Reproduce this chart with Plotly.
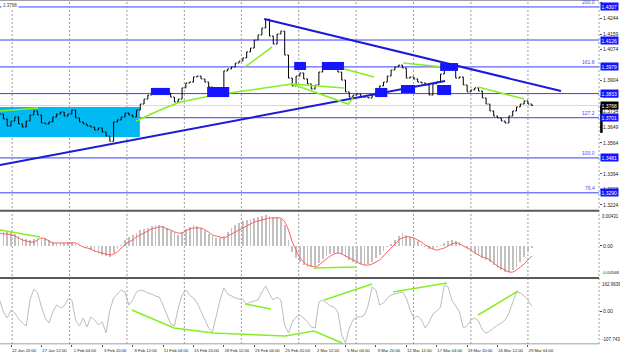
import plotly.graph_objects as go

# ---------------- data ----------------
close_prices = [
    1.3721, 1.3694, 1.3656, 1.3683, 1.3705, 1.3667, 1.3650, 1.3683, 1.3716, 1.3738,
    1.3716, 1.3672, 1.3667, 1.3678, 1.3705, 1.3721, 1.3732, 1.3710, 1.3721, 1.3743,
    1.3700, 1.3678, 1.3667, 1.3656, 1.3650, 1.3634, 1.3645, 1.3623, 1.3601, 1.3572,
    1.3678, 1.3689, 1.3705, 1.3727, 1.3716, 1.3705, 1.3743, 1.3776, 1.3803, 1.3825,
    1.3842, 1.3847, 1.3853, 1.3842, 1.3836, 1.3814, 1.3787, 1.3803, 1.3864, 1.3891,
    1.3896, 1.3924, 1.3929, 1.3913, 1.3896, 1.3869, 1.3853, 1.3836, 1.3831, 1.3957,
    1.3968, 1.3979, 1.4000, 1.4011, 1.4028, 1.4061, 1.4082, 1.4126, 1.4154, 1.4192,
    1.4240, 1.4148, 1.4104, 1.4159, 1.4175, 1.4044, 1.3918, 1.3875, 1.3929, 1.3946,
    1.3913, 1.3886, 1.3858, 1.3880, 1.3951, 1.3995, 1.3984, 1.3973, 1.3968, 1.3951,
    1.3907, 1.3842, 1.3814, 1.3825, 1.3831, 1.3814, 1.3814, 1.3809, 1.3825, 1.3847,
    1.3875, 1.3896, 1.3929, 1.3962, 1.3979, 1.3989, 1.3973, 1.3918, 1.3924, 1.3913,
    1.3896, 1.3891, 1.3880, 1.3825, 1.3886, 1.3896, 1.3940, 1.3984, 1.3984, 1.3973,
    1.3918, 1.3924, 1.3880, 1.3842, 1.3853, 1.3864, 1.3847, 1.3809, 1.3776, 1.3738,
    1.3710, 1.3700, 1.3683, 1.3672, 1.3710, 1.3738, 1.3760, 1.3776, 1.3793, 1.3776,
    1.3768,
]

macd_main = [
    0.00228, 0.00245, 0.00245, 0.00245, 0.00210, 0.00175, 0.00140, 0.00123, 0.00105, 0.00123,
    0.00140, 0.00140, 0.00140, 0.00105, 0.00070, 0.00053, 0.00053, 0.00053, 0.00070, 0.00070,
    0.00035, 0.00018, 0.00000, -0.00018, -0.00070, -0.00105, -0.00140, -0.00158, -0.00175, -0.00193,
    -0.00123, -0.00053, 0.00018, 0.00105, 0.00158, 0.00193, 0.00228, 0.00280, 0.00298, 0.00315,
    0.00350, 0.00368, 0.00368, 0.00350, 0.00315, 0.00263, 0.00228, 0.00193, 0.00245, 0.00298,
    0.00333, 0.00368, 0.00350, 0.00315, 0.00263, 0.00210, 0.00175, 0.00140, 0.00140, 0.00175,
    0.00245, 0.00315, 0.00368, 0.00403, 0.00438, 0.00455, 0.00473, 0.00490, 0.00508, 0.00525,
    0.00543, 0.00525, 0.00508, 0.00508, 0.00473, 0.00368, 0.00105, -0.00105, -0.00210, -0.00280,
    -0.00333, -0.00368, -0.00368, -0.00350, -0.00298, -0.00228, -0.00175, -0.00140, -0.00123, -0.00123,
    -0.00140, -0.00193, -0.00245, -0.00280, -0.00298, -0.00315, -0.00333, -0.00315, -0.00280, -0.00210,
    -0.00158, -0.00088, -0.00018, 0.00035, 0.00105, 0.00175, 0.00228, 0.00193, 0.00158, 0.00123,
    0.00088, 0.00035, -0.00018, -0.00053, -0.00053, -0.00018, 0.00018, 0.00053, 0.00088, 0.00105,
    0.00088, 0.00070, 0.00000, -0.00035, -0.00088, -0.00123, -0.00158, -0.00210, -0.00245, -0.00280,
    -0.00333, -0.00385, -0.00420, -0.00455, -0.00455, -0.00420, -0.00368, -0.00280, -0.00193, -0.00105,
    -0.00035,
]

macd_signal = [
    0.00228, 0.00210, 0.00210, 0.00193, 0.00175, 0.00140, 0.00105, 0.00088, 0.00070, 0.00070,
    0.00105, 0.00140, 0.00123, 0.00088, 0.00053, 0.00053, 0.00053, 0.00053, 0.00053, 0.00053,
    0.00053, 0.00018, -0.00018, -0.00035, -0.00053, -0.00088, -0.00105, -0.00123, -0.00140, -0.00158,
    -0.00140, -0.00105, -0.00035, 0.00018, 0.00070, 0.00105, 0.00158, 0.00193, 0.00228, 0.00263,
    0.00298, 0.00315, 0.00333, 0.00333, 0.00298, 0.00280, 0.00245, 0.00228, 0.00228, 0.00263,
    0.00298, 0.00315, 0.00315, 0.00315, 0.00280, 0.00245, 0.00193, 0.00175, 0.00158, 0.00140,
    0.00175, 0.00210, 0.00245, 0.00280, 0.00315, 0.00350, 0.00385, 0.00420, 0.00438, 0.00455,
    0.00473, 0.00490, 0.00490, 0.00490, 0.00490, 0.00420, 0.00280, 0.00070, -0.00070, -0.00210,
    -0.00280, -0.00333, -0.00350, -0.00368, -0.00333, -0.00280, -0.00228, -0.00175, -0.00140, -0.00123,
    -0.00140, -0.00175, -0.00210, -0.00245, -0.00280, -0.00315, -0.00333, -0.00333, -0.00315, -0.00280,
    -0.00245, -0.00175, -0.00105, -0.00035, 0.00035, 0.00105, 0.00140, 0.00158, 0.00158, 0.00140,
    0.00105, 0.00070, 0.00018, -0.00018, -0.00053, -0.00070, -0.00053, -0.00035, 0.00000, 0.00035,
    0.00053, 0.00035, 0.00000, -0.00035, -0.00070, -0.00123, -0.00158, -0.00193, -0.00210, -0.00245,
    -0.00298, -0.00350, -0.00385, -0.00420, -0.00455, -0.00455, -0.00420, -0.00368, -0.00315, -0.00245,
    -0.00175,
]

cci_values = [
    49.5, -4.5, -31.5, 4.5, -9, -36, -54, -67.5, 49.5, 99,
    81, 18, -31.5, -54, -4.5, 27, 13.5, 22.5, 54, 49.5,
    -40.5, -67.5, -31.5, -72, -27, -40.5, -63, -49.5, -99, 4.5,
    58.5, 76.5, 94.5, 85.5, 27, 49.5, 85.5, 94.5, 90, 81,
    76.5, 67.5, 63, 27, -18, -58.5, -67.5, 13.5, 72, 94.5,
    72, 58.5, 36, 0, -36, -76.5, -94.5, -18, 49.5, 103.5,
    76.5, 67.5, 58.5, 54, 49.5, 31.5, 40.5, 45, 49.5, 85.5,
    112.5, 76.5, 49.5, 63, 49.5, -63, -99, -49.5, -27, -18,
    -31.5, -49.5, -72, -76.5, 40.5, 49.5, 36, 22.5, 18, -4.5,
    -108, -144, -76.5, -40.5, -27, -27, -18, 27, 108, 94.5,
    27, 36, 58.5, 72, 76.5, 81, 85.5, 58.5, 4.5, -31.5,
    -22.5, -40.5, -76.5, -49.5, -13.5, 0, 18, 117, 108, 49.5,
    22.5, -4.5, -76.5, -67.5, -40.5, -31.5, -45, -85.5, -99, -90,
    -76.5, -63, -54, -40.5, -9, 40.5, 85.5, 81, 67.5, 49.5,
    22.5,
]

time_labels = ["22 Jan 20:00", "27 Jan 12:00", "1 Feb 04:00", "3 Feb 20:00", "8 Feb 12:00",
               "11 Feb 04:00", "15 Feb 20:00", "18 Feb 12:00", "23 Feb 04:00", "25 Feb 20:00",
               "2 Mar 12:00", "5 Mar 04:00", "9 Mar 20:00", "12 Mar 12:00", "17 Mar 04:00",
               "19 Mar 20:00", "24 Mar 12:00", "29 Mar 04:00"]
time_label_bars = [3, 11, 19, 27, 35, 43, 51, 59, 67, 75, 83, 91, 99, 107, 115, 123, 131, 139]
grid_bars = [3.3, 18.4, 33.5, 48.6, 63.6, 78.7, 93.8, 108.9, 124.0, 139.0]

price_ticks = [1.4329, 1.4244, 1.4159, 1.4074, 1.3904, 1.3819, 1.3734, 1.3649,
               1.3564, 1.3394, 1.3308, 1.3224]
fib_levels = [1.4307, 1.3979, 1.3701, 1.3481, 1.3290]
fib_names = ["200.0", "161.8", "127.2", "100.0", "76.4"]
extra_levels = [1.4126, 1.3833]
current_price = 1.3768

# drawings (bar index, value)
zone_box = dict(x0=0.1, x1=36.9, y0=1.3596, y1=1.3760)
marker_boxes = [
    (39.8, 44.8, 1.3825, 1.3864), (54.6, 60.4, 1.3814, 1.3869), (77.5, 80.6, 1.3962, 1.4006),
    (84.8, 90.6, 1.3962, 1.4006), (98.8, 102.0, 1.3814, 1.3864), (105.6, 109.3, 1.3836, 1.3880),
    (115.1, 118.8, 1.3825, 1.3880), (115.9, 120.6, 1.3957, 1.4000),
]
trend_up = ([0.1, 117.2], [1.3442, 1.3902])
trend_down = ([69.6, 147.7], [1.4241, 1.3847])
price_green = [
    ([0.1, 10.1], [1.3738, 1.3754]),
    ([35.9, 42.2, 47.5, 56.7, 76.9], [1.3683, 1.3743, 1.3787, 1.3825, 1.3885]),
    ([64.6, 71.7], [1.3979, 1.4088]),
    ([84.8, 98.5], [1.4000, 1.3924]),
    ([76.9, 91.7, 93.0], [1.3885, 1.3776, 1.3809]),
    ([76.9, 90.6], [1.3885, 1.3864]),
    ([106.2, 116.7], [1.4000, 1.3979]),
    ([125.9, 138.0], [1.3869, 1.3803]),
]
macd_green = [
    ([0.1, 10.6], [0.00280, 0.00158]),
    ([82.7, 93.8], [-0.00385, -0.00368]),
]
cci_green = [
    ([34.8, 45.9, 56.2, 75.1, 82.7, 90.1], [4.5, -76.5, -99, -112.5, -90, -144]),
    ([64.6, 71.4], [31.5, 9]),
    ([85.4, 98.0], [49.5, 121.5]),
    ([103.5, 117.7], [85.5, 126]),
    ([125.9, 136.4], [-18, 90]),
]

# ---------------- figure ----------------
FONT = "Liberation Sans"
BLUE_LINE = "#3c3cff"
TREND = "#1a1ad8"
GREEN = "#86ee22"

bars = list(range(len(close_prices)))
opens = [close_prices[0]] + close_prices[:-1]
highs = [max(o, c) for o, c in zip(opens, close_prices)]
lows = [min(o, c) for o, c in zip(opens, close_prices)]

fig = go.Figure()

fig.add_trace(go.Ohlc(x=bars, open=opens, high=highs, low=lows, close=close_prices,
                      increasing_line_color="black", decreasing_line_color="black",
                      line_width=1, tickwidth=0.35, showlegend=False, hoverinfo="skip",
                      xaxis="x", yaxis="y"))

for xs, ys in [trend_up, trend_down]:
    fig.add_trace(go.Scatter(x=xs, y=ys, mode="lines", line=dict(color=TREND, width=2),
                             showlegend=False, hoverinfo="skip", yaxis="y"))
for xs, ys in price_green:
    fig.add_trace(go.Scatter(x=xs, y=ys, mode="lines", line=dict(color=GREEN, width=1.5),
                             showlegend=False, hoverinfo="skip", yaxis="y"))

mb = list(range(len(macd_main)))
fig.add_trace(go.Bar(x=mb, y=macd_main, marker_color="#c0c0c0", marker_line_width=0,
                     width=0.45, showlegend=False, hoverinfo="skip", yaxis="y2"))
fig.add_trace(go.Scatter(x=list(range(len(macd_signal))), y=macd_signal, mode="lines",
                         line=dict(color="#ff5a5a", width=1, shape="spline"),
                         showlegend=False, hoverinfo="skip", yaxis="y2"))
for xs, ys in macd_green:
    fig.add_trace(go.Scatter(x=xs, y=ys, mode="lines", line=dict(color=GREEN, width=1.5),
                             showlegend=False, hoverinfo="skip", yaxis="y2"))

fig.add_trace(go.Scatter(x=list(range(len(cci_values))), y=cci_values, mode="lines",
                         line=dict(color="#bdbdbd", width=1),
                         showlegend=False, hoverinfo="skip", yaxis="y3"))
for xs, ys in cci_green:
    fig.add_trace(go.Scatter(x=xs, y=ys, mode="lines", line=dict(color=GREEN, width=1.5),
                             showlegend=False, hoverinfo="skip", yaxis="y3"))

shapes = []
shapes.append(dict(type="rect", xref="x", yref="y", layer="below", line_width=0,
                   fillcolor="#00b8f2", **zone_box))
for lv in fib_levels + extra_levels:
    shapes.append(dict(type="line", xref="x domain", yref="y", x0=0, x1=1, y0=lv, y1=lv,
                       line=dict(color=BLUE_LINE, width=1), layer="below"))
shapes.append(dict(type="line", xref="x domain", yref="y", x0=0, x1=1, y0=current_price,
                   y1=current_price, line=dict(color="#d8d8d8", width=1), layer="below"))
for x0, x1, y0, y1 in marker_boxes:
    shapes.append(dict(type="rect", xref="x", yref="y", x0=x0, x1=x1, y0=y0, y1=y1,
                       fillcolor="#1414ff", line_width=0, layer="above"))
for g in grid_bars:
    shapes.append(dict(type="line", xref="x", yref="paper", x0=g, x1=g, y0=0, y1=1,
                       line=dict(color="#9a9a9a", width=1, dash="2px,2px"), layer="below"))
shapes.append(dict(type="line", xref="paper", yref="paper", x0=1, x1=1, y0=0, y1=1,
                   line=dict(color="#9a9a9a", width=1, dash="2px,2px")))
for yp, col, w in [(0.999, "#a0a0a0", 1.5), (0.3870, "#5a5a5a", 2), (0.1915, "#5a5a5a", 2),
                   (0.0005, "#a0a0a0", 1)]:
    shapes.append(dict(type="line", xref="paper", yref="paper", x0=0, x1=1.0, y0=yp, y1=yp,
                       line=dict(color=col, width=w)))
shapes.append(dict(type="line", xref="paper", yref="y", x0=1.004, x1=1.004,
                   y0=1.3618, y1=current_price, line=dict(color="black", width=2.5)))

ann = []
for lv in fib_levels + extra_levels:
    ann.append(dict(x=1, xref="paper", xanchor="left", xshift=1, y=lv, yref="y",
                    text=f"{lv:.4f}", showarrow=False, bgcolor="#1414ff", borderpad=0.5,
                    font=dict(family=FONT, size=5, color="white")))
ann.append(dict(x=1, xref="paper", xanchor="left", xshift=1, y=current_price, yref="y",
                text=f"{current_price:.4f}", showarrow=False, bgcolor="black", borderpad=0.5,
                font=dict(family=FONT, size=5, color="white")))
for lv, nm in zip(fib_levels, fib_names):
    ann.append(dict(x=1, xref="paper", xanchor="right", xshift=-2, y=lv, yref="y",
                    yanchor="bottom", text=nm, showarrow=False,
                    font=dict(family=FONT, size=5, color="#4a4aff")))
for txt, yp, ya, sz in [("0.00431", 0.3837, "top", 4.5), ("-0.00568", 0.1948, "bottom", 4.3),
                        ("162.9636", 0.186, "top", 4.5), ("-107.7435", 0.0, "bottom", 4.5)]:
    ann.append(dict(x=1, xref="paper", xanchor="left", xshift=1, y=yp, yref="paper",
                    yanchor=ya, text=txt, showarrow=False,
                    font=dict(family=FONT, size=sz, color="#222222")))
ann.append(dict(x=0, xref="paper", xanchor="left", xshift=1, y=1, yref="paper",
                yanchor="top", yshift=-1, text=f"{current_price:.4f}", showarrow=False,
                bgcolor="white", font=dict(family=FONT, size=4.5, color="#333333")))

axis_font = dict(family=FONT, size=5, color="#222222")
fig.update_layout(
    width=620, height=357, autosize=False,
    margin=dict(l=0, r=21, t=0, b=13),
    paper_bgcolor="white", plot_bgcolor="white",
    bargap=0, showlegend=False, hovermode=False,
    xaxis=dict(domain=[0, 1], anchor="y3", range=[0.1, 157.7], rangeslider=dict(visible=False),
               tickvals=time_label_bars, ticktext=time_labels, ticklabelshift=13,
               tickfont=dict(family=FONT, size=4.2, color="#222222"),
               ticks="outside", ticklen=2, tickcolor="#555555",
               showgrid=False, zeroline=False, showline=False),
    yaxis=dict(domain=[0.3895, 1.0], range=[1.3196, 1.4345], side="right", anchor="x",
               tickvals=price_ticks, ticktext=[f"{v:.4f}" for v in price_ticks],
               tickfont=axis_font, ticks="outside", ticklen=2, tickcolor="#555555",
               showgrid=False, zeroline=False, showline=False),
    yaxis2=dict(domain=[0.1948, 0.3837], range=[-0.005425, 0.00595], side="right", anchor="x",
                tickvals=[0], ticktext=["0.00"], tickfont=axis_font, ticks="outside", ticklen=2,
                showgrid=False, zeroline=False, showline=False),
    yaxis3=dict(domain=[0.0, 0.186], range=[-148.5, 139.5], side="right", anchor="x",
                tickvals=[0], ticktext=["0.00"], tickfont=axis_font, ticks="outside", ticklen=2,
                showgrid=False, zeroline=False, showline=False),
    shapes=shapes, annotations=ann,
)

fig.write_html("out.html", config={"displayModeBar": False, "staticPlot": True},
               post_script="document.body.style.margin='0';document.body.style.padding='0';"
                           "document.body.style.overflow='hidden';")
